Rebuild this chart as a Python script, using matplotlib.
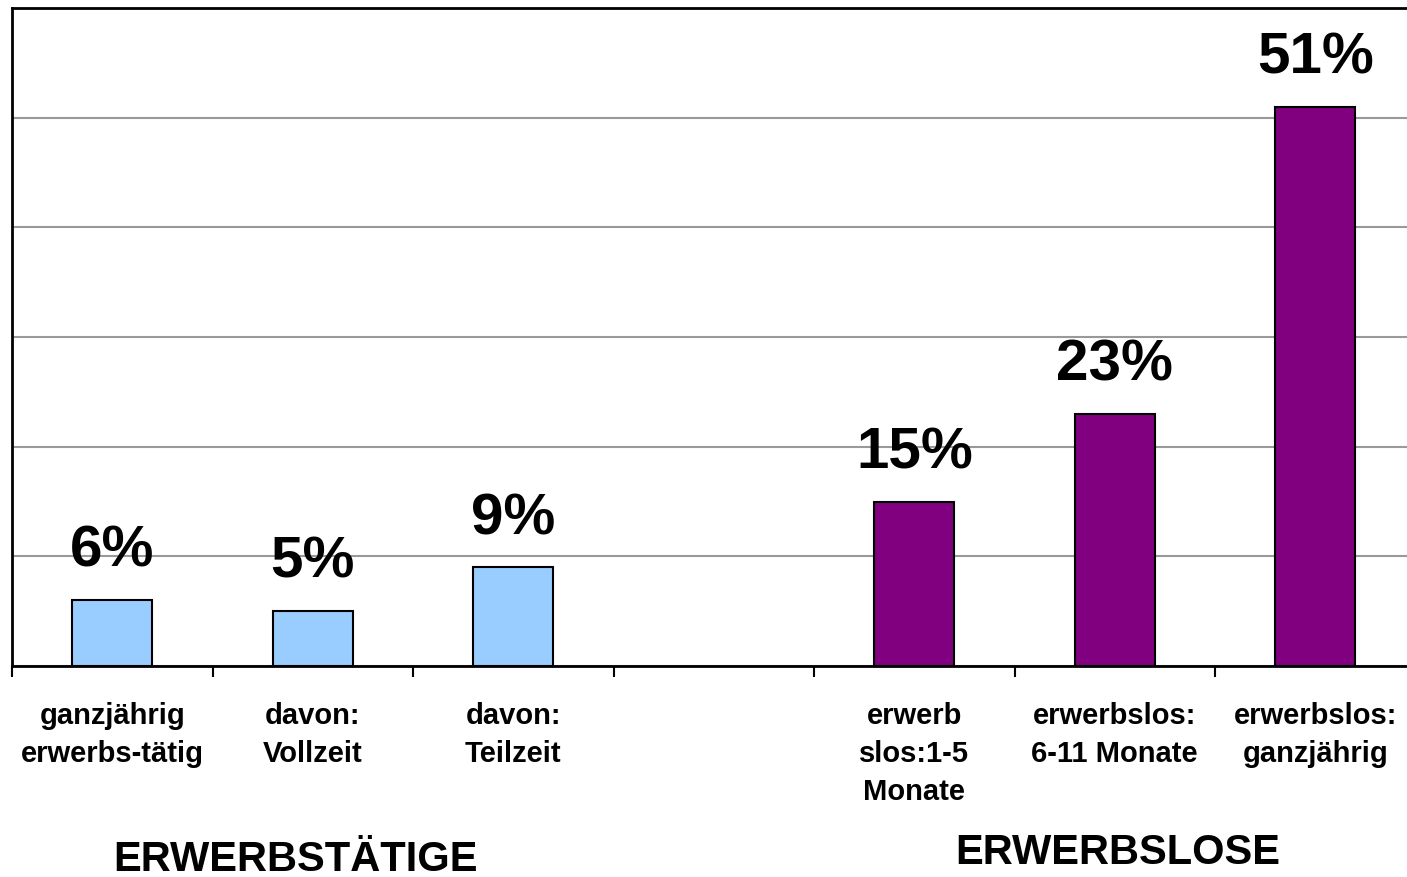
import matplotlib
matplotlib.use("Agg")
import matplotlib.pyplot as plt
import numpy as np

# Data
categories = ["ganzjährig\nerwerbs-tätig", "davon:\nVollzeit", "davon:\nTeilzeit", "",
              "erwerb\nslos:1-5\nMonate", "erwerbslos:\n6-11 Monate", "erwerbslos:\nganzjährig"]
values = [6, 5, 9, None, 15, 23, 51]
value_labels = ["6%", "5%", "9%", "", "15%", "23%", "51%"]
colors = ["#99CCFF", "#99CCFF", "#99CCFF", "none", "#800080", "#800080", "#800080"]
group_labels = ["ERWERBSTÄTIGE", "ERWERBSLOSE"]
y_ticks = [0, 10, 20, 30, 40, 50, 60]

plt.rcParams['font.family'] = ['Liberation Sans', 'DejaVu Sans']
plt.rcParams['font.weight'] = 'bold'

W, H = 1407, 878
fig = plt.figure(figsize=(W / 100, H / 100), dpi=100)
left, right, bottom, top = 12, 1415.5, 667, 9
ax = fig.add_axes([left / W, (H - bottom) / H, (right - left) / W, (bottom - top) / H])

x = np.arange(len(categories))
for i, (v, c, lab) in enumerate(zip(values, colors, value_labels)):
    if v is None:
        continue
    ax.bar(x[i], v, width=0.4, color=c, edgecolor="black", linewidth=1.5, zorder=3)
    ax.annotate(lab, (x[i], v), xytext=(0, 16), textcoords="offset points",
                ha="center", va="bottom", fontsize=42, fontweight="bold")

ax.set_xlim(-0.5, len(categories) - 0.5)
ax.set_ylim(y_ticks[0], y_ticks[-1])
ax.set_yticks(y_ticks)
ax.yaxis.grid(True, color="#999999", linewidth=1.5, zorder=0)
ax.tick_params(axis="y", length=0, labelleft=False)

ax.set_xticks(x)
ax.set_xticklabels(categories, fontsize=21, fontweight="bold", linespacing=1.45)
ax.tick_params(axis="x", which="major", length=0, pad=25)
ax.set_xticks(np.arange(-0.5, len(categories) - 0.4, 1.0), minor=True)
ax.tick_params(axis="x", which="minor", length=8, width=1.5, direction="out")

for s in ["left", "bottom", "top"]:
    ax.spines[s].set_color("black")
    ax.spines[s].set_linewidth(2)
ax.spines["right"].set_visible(False)

fig.text(296 / W, 1 - 860 / H, group_labels[0], ha="center", va="center", fontsize=30, fontweight="bold")
fig.text(1118 / W, 1 - 853 / H, group_labels[1], ha="center", va="center", fontsize=30, fontweight="bold")

fig.savefig("out.png", dpi=100)
